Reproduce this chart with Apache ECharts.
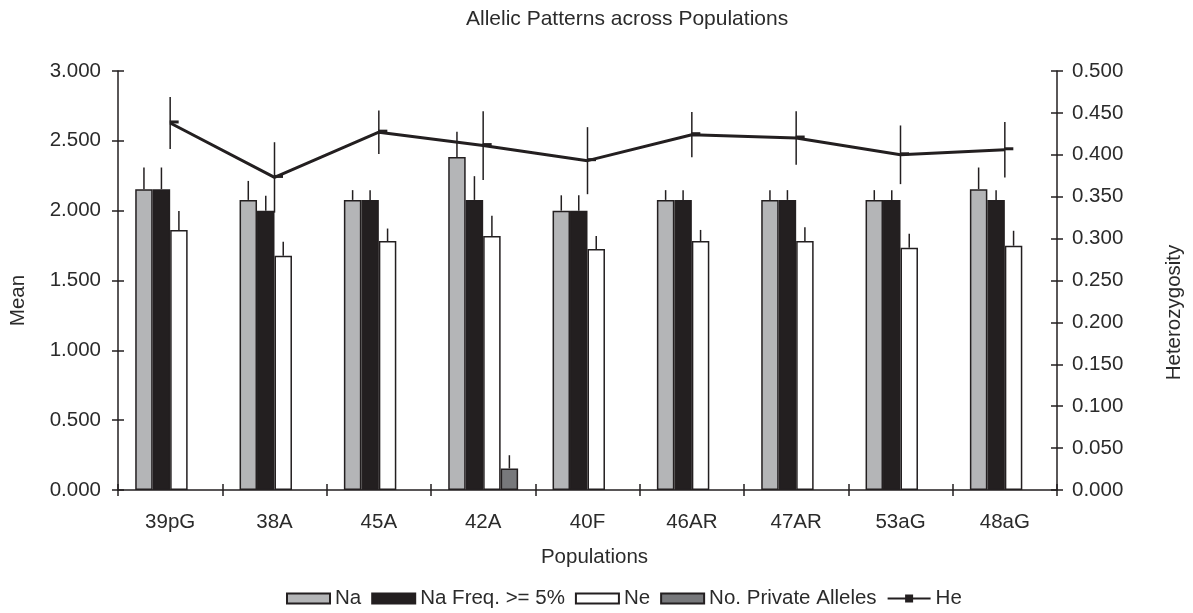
<!DOCTYPE html>
<html>
<head>
<meta charset="utf-8">
<script src="https://cdn.jsdelivr.net/npm/echarts@6/dist/echarts.min.js"></script>
<style>
  html, body { margin: 0; padding: 0; background: #fff; }
  #chart { width: 1193px; height: 613px; }
</style>
</head>
<body>
<div id="chart"></div>
<script>
// Populations on the category axis
const populations = ['39pG', '38A', '45A', '42A', '40F', '46AR', '47AR', '53aG', '48aG'];

// Mean allelic values (left axis) and their standard errors
const na        = [2.154, 2.077, 2.077, 2.385, 2.000, 2.077, 2.077, 2.077, 2.154];
const naErr     = [0.155, 0.136, 0.070, 0.180, 0.110, 0.070, 0.070, 0.070, 0.155];
const naFreq5   = [2.154, 2.000, 2.077, 2.077, 2.000, 2.077, 2.077, 2.077, 2.077];
const naFreqErr = [0.155, 0.107, 0.070, 0.170, 0.110, 0.070, 0.070, 0.070, 0.070];
const ne        = [1.861, 1.677, 1.782, 1.818, 1.725, 1.782, 1.782, 1.735, 1.749];
const neErr     = [0.136, 0.100, 0.090, 0.145, 0.093, 0.080, 0.100, 0.100, 0.107];
const privAll   = [0, 0, 0, 0.154, 0, 0, 0, 0, 0];
const privErr   = [0, 0, 0, 0.095, 0, 0, 0, 0, 0];

// Expected heterozygosity (right axis) and its standard error
const he    = [0.438, 0.373, 0.427, 0.411, 0.393, 0.424, 0.420, 0.400, 0.406];
const heErr = [0.031, 0.042, 0.026, 0.041, 0.040, 0.027, 0.032, 0.035, 0.033];

// Axis tick settings
const meanMax = 3, meanStep = 0.5;
const hetMax = 0.5, hetStep = 0.05;

const INK = '#231f20';
const TEXT = '#2b2b2b';
const FONT = '"Liberation Sans", Arial, sans-serif';
const FS = 20.5;
const CAT_GAP = 0.33;
const N_BARS = 4;

const barDefs = [
  { name: 'Na', values: na, errs: naErr, color: '#b4b5b7' },
  { name: 'Na Freq. >= 5%', values: naFreq5, errs: naFreqErr, color: INK },
  { name: 'Ne', values: ne, errs: neErr, color: '#ffffff' },
  { name: 'No. Private Alleles', values: privAll, errs: privErr, color: '#77787b' }
];

// Upward-only error whisker drawn at the centre of a bar in its group
function barErrRenderer(slot) {
  return function (params, api) {
    const cat = api.value(0), val = api.value(1), err = api.value(2);
    if (!err) return null;
    const band = api.size([1, 0])[0];
    const bw = band * (1 - CAT_GAP) / N_BARS;
    const base = api.coord([cat, val]);
    const top = api.coord([cat, val + err]);
    const x = base[0] + (slot - (N_BARS - 1) / 2) * bw;
    return {
      type: 'line',
      shape: { x1: x, y1: base[1], x2: x, y2: top[1] },
      style: { stroke: INK, lineWidth: 1.5 }
    };
  };
}

// Symmetric vertical error line for the heterozygosity curve
function heErrRenderer(params, api) {
  const cat = api.value(0), val = api.value(1), err = api.value(2);
  const lo = api.coord([cat, val - err]);
  const hi = api.coord([cat, val + err]);
  return {
    type: 'line',
    shape: { x1: lo[0], y1: lo[1], x2: hi[0], y2: hi[1] },
    style: { stroke: INK, lineWidth: 1.5 }
  };
}

const series = [];
barDefs.forEach(function (d) {
  series.push({
    name: d.name,
    type: 'bar',
    xAxisIndex: 0,
    yAxisIndex: 0,
    barGap: '0%',
    barCategoryGap: (CAT_GAP * 100) + '%',
    data: d.values.map(function (v) { return v === 0 ? '-' : v; }),
    itemStyle: { color: d.color, borderColor: INK, borderWidth: 1.5 },
    emphasis: { disabled: true },
    z: 2
  });
});
barDefs.forEach(function (d, i) {
  series.push({
    type: 'custom',
    xAxisIndex: 0,
    yAxisIndex: 0,
    renderItem: barErrRenderer(i),
    data: d.values.map(function (v, k) { return [k, v, d.errs[k]]; }),
    silent: true,
    z: 3
  });
});
series.push({
  name: 'He',
  type: 'line',
  xAxisIndex: 0,
  yAxisIndex: 1,
  data: he,
  lineStyle: { color: INK, width: 3 },
  itemStyle: { color: INK },
  symbol: 'rect',
  symbolSize: [9, 3],
  symbolOffset: [4, -1],
  showSymbol: true,
  emphasis: { disabled: true },
  z: 5
});
series.push({
  type: 'custom',
  xAxisIndex: 0,
  yAxisIndex: 1,
  renderItem: heErrRenderer,
  data: he.map(function (v, k) { return [k, v, heErr[k]]; }),
  silent: true,
  z: 4
});

const axisLine = { show: true, lineStyle: { color: INK, width: 1.5 } };
const tickStyle = { color: INK, width: 1.5 };
const labelStyle = { color: TEXT, fontSize: FS, fontFamily: FONT };
const nameStyle = { color: TEXT, fontSize: FS, fontFamily: FONT };

const option = {
  animation: false,
  backgroundColor: '#ffffff',
  textStyle: { fontFamily: FONT },
  title: {
    text: 'Allelic Patterns across Populations',
    left: 461,
    top: 4,
    textStyle: { color: TEXT, fontSize: 21, fontWeight: 'normal', fontFamily: FONT }
  },
  legend: {
    top: 583,
    left: 281,
    itemWidth: 43,
    itemHeight: 10,
    itemGap: 10,
    textStyle: { color: TEXT, fontSize: FS, fontFamily: FONT },
    data: [
      { name: 'Na', icon: 'rect' },
      { name: 'Na Freq. >= 5%', icon: 'rect' },
      { name: 'Ne', icon: 'rect' },
      { name: 'No. Private Alleles', icon: 'rect' },
      { name: 'He' }
    ]
  },
  grid: { left: 118, right: 136, top: 71, bottom: 123, outerBoundsMode: 'none', containLabel: false },
  xAxis: [
    {
      type: 'category',
      data: populations,
      name: 'Populations',
      nameLocation: 'middle',
      nameGap: 57,
      nameTextStyle: Object.assign({ padding: [0, 0, 0, 14] }, nameStyle),
      axisLine: axisLine,
      axisTick: { show: true, alignWithLabel: false, length: 6, lineStyle: tickStyle },
      axisLabel: Object.assign({ margin: 22 }, labelStyle)
    },
    {
      // inner half of the crossing category ticks
      type: 'category',
      data: populations,
      position: 'bottom',
      axisLine: { show: false },
      axisTick: { show: true, inside: true, length: 6, lineStyle: tickStyle },
      axisLabel: { show: false }
    }
  ],
  yAxis: [
    {
      type: 'value',
      min: 0,
      max: meanMax,
      interval: meanStep,
      name: 'Mean',
      nameLocation: 'middle',
      nameRotate: 90,
      nameGap: 89,
      nameTextStyle: Object.assign({ padding: [0, 40, 0, 0] }, nameStyle),
      axisLine: axisLine,
      axisTick: { show: true, length: 6, lineStyle: tickStyle },
      axisLabel: Object.assign({ margin: 17, formatter: function (v) { return v.toFixed(3); } }, labelStyle),
      splitLine: { show: false }
    },
    {
      type: 'value',
      min: 0,
      max: hetMax,
      interval: hetStep,
      position: 'right',
      name: 'Heterozygosity',
      nameLocation: 'middle',
      nameRotate: 90,
      nameGap: 107,
      nameTextStyle: Object.assign({ padding: [0, 64, 0, 0] }, nameStyle),
      axisLine: axisLine,
      axisTick: { show: true, length: 6, lineStyle: tickStyle },
      axisLabel: Object.assign({ margin: 15, formatter: function (v) { return v.toFixed(3); } }, labelStyle),
      splitLine: { show: false }
    },
    {
      // inner half of the crossing ticks on the left axis
      type: 'value',
      min: 0,
      max: meanMax,
      interval: meanStep,
      position: 'left',
      axisLine: { show: false },
      axisTick: { show: true, inside: true, length: 6, lineStyle: tickStyle },
      axisLabel: { show: false },
      splitLine: { show: false }
    },
    {
      // inner half of the crossing ticks on the right axis
      type: 'value',
      min: 0,
      max: hetMax,
      interval: hetStep,
      position: 'right',
      axisLine: { show: false },
      axisTick: { show: true, inside: true, length: 6, lineStyle: tickStyle },
      axisLabel: { show: false },
      splitLine: { show: false }
    }
  ],
  series: series
};

const chart = echarts.init(document.getElementById('chart'), null, { renderer: 'canvas' });
chart.setOption(option);
</script>
</body>
</html>
